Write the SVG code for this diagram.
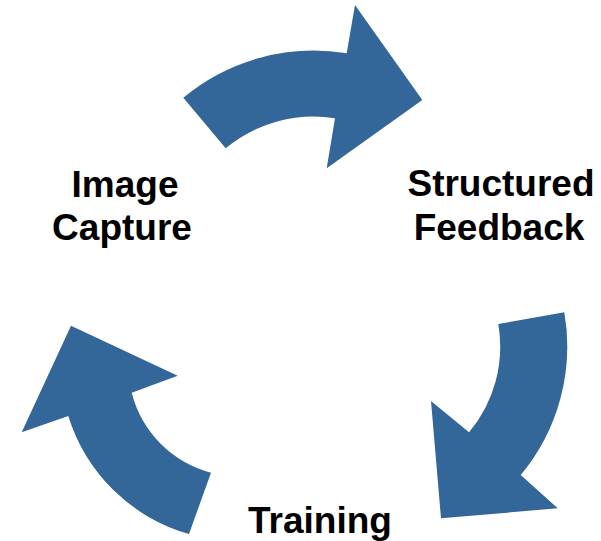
<svg xmlns="http://www.w3.org/2000/svg" width="601" height="541" viewBox="0 0 601 541">
<style>
.arrow{fill:#336699;stroke:none}
.lbl{font-family:"Liberation Sans",Arial,sans-serif;font-weight:bold;font-size:37px;fill:#000;text-anchor:middle}
</style>
<rect width="601" height="541" fill="#fff"/>
<g id="connectors">
<path id="arrow-top" class="arrow" d="M183.3,97.7 A203.6,203.6 0 0 1 346.7,53.3 L355,5 L422.3,100 L326.7,168.3 L335,118.3 A137.5,137.5 0 0 0 225.7,148.3 Z"/>
<path id="arrow-right" class="arrow" d="M564.3,312.3 A200.5,200.5 0 0 1 520.7,475 L557.7,508.3 L441,518.3 L431,401 L469,432.3 A133.4,133.4 0 0 0 498.3,324 Z"/>
<path id="arrow-left" class="arrow" d="M189,534 A176.5,176.5 0 0 1 68.3,416 L21.7,432.3 L71,325.7 L177.7,375.7 L131.7,392.7 A110.5,110.5 0 0 0 211,472.7 Z"/>
</g>
<g id="node-image-capture">
<text class="lbl" x="125" y="197">Image</text>
<text class="lbl" x="122" y="240">Capture</text>
</g>
<g id="node-structured-feedback">
<text class="lbl" x="501" y="196">Structured</text>
<text class="lbl" x="499" y="240">Feedback</text>
</g>
<g id="node-training">
<text class="lbl" x="320" y="533">Training</text>
</g>
</svg>
